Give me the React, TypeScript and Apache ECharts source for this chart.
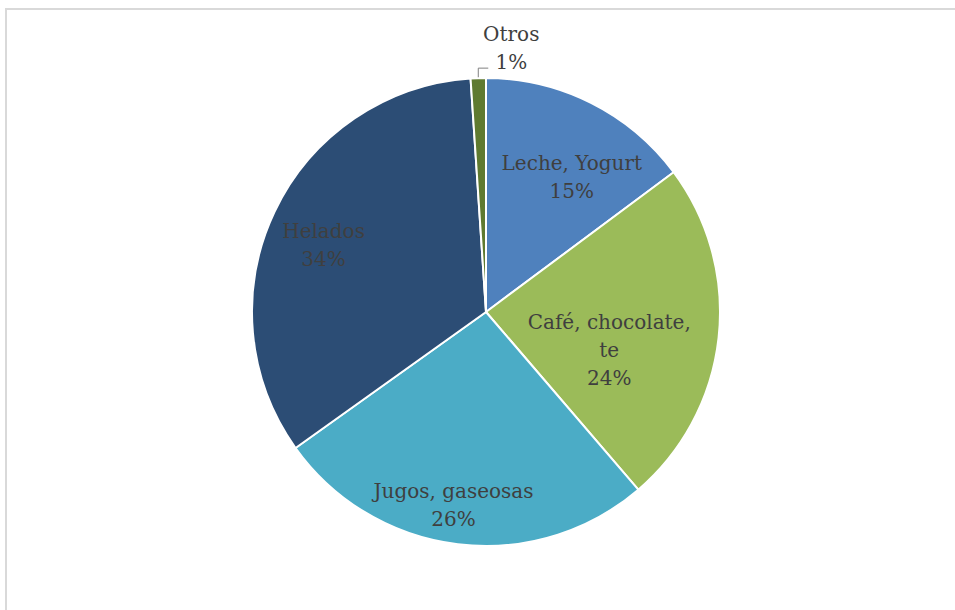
import React, { useEffect, useRef } from "react";
import * as echarts from "echarts";

const categories = ["Leche, Yogurt", "Café, chocolate,\nte", "Jugos, gaseosas", "Helados", "Otros"];
const values = [14.8, 23.9, 26.4, 33.8, 1.05];
const percentLabels = ["15%", "24%", "26%", "34%", "1%"];
const colors = ["#4F81BD", "#9BBB59", "#4BACC6", "#2C4D75", "#5F7A30"];
const labelShifts: [number, number][] = [[32, -28], [4, 25], [-18, 74], [-54, -16], [0, 0]];

export default function App() {
  const ref = useRef<HTMLDivElement>(null);
  useEffect(() => {
    document.body.style.margin = "0";
    if (!ref.current) return;
    const chart = echarts.init(ref.current, null, { renderer: "svg" });
    const data = categories.map((name, i) => ({
      name,
      value: values[i],
      itemStyle: { color: colors[i] },
      label: { formatter: `${name}\n${percentLabels[i]}`, position: i === 4 ? "outside" : "inside" },
      labelLine: { show: i === 4 },
    }));
    chart.setOption({
      animation: false,
      backgroundColor: "#ffffff",
      graphic: [
        {
          type: "rect",
          shape: { x: 6, y: 9, width: 1200, height: 1200 },
          style: { fill: "none", stroke: "#d9d9d9", lineWidth: 2 },
          silent: true,
        },
      ],
      series: [
        {
          type: "pie",
          center: [486, 312],
          radius: 234,
          startAngle: 90,
          clockwise: true,
          itemStyle: { borderColor: "#ffffff", borderWidth: 2 },
          label: {
            color: "#3f3f3f",
            fontFamily: "DejaVu Serif",
            fontSize: 20,
            lineHeight: 28,
            align: "center",
          },
          labelLine: { lineStyle: { color: "#808080", width: 1 }, length: 8, length2: 8 },
          labelLayout: (p: any) => {
            if (p.dataIndex === 4 && p.labelLinePoints) {
              const [x0, y0] = p.labelLinePoints[0];
              return {
                x: x0 + 33,
                y: y0 - 30,
                align: "center",
                verticalAlign: "middle",
                labelLinePoints: [[x0, y0], [x0, y0 - 10], [x0 + 10, y0 - 10]],
              };
            }
            const s = labelShifts[p.dataIndex];
            return { dx: s[0], dy: s[1] };
          },
          data,
        },
      ],
    });
    return () => chart.dispose();
  }, []);
  return <div ref={ref} style={{ width: 955, height: 610 }} />;
}
